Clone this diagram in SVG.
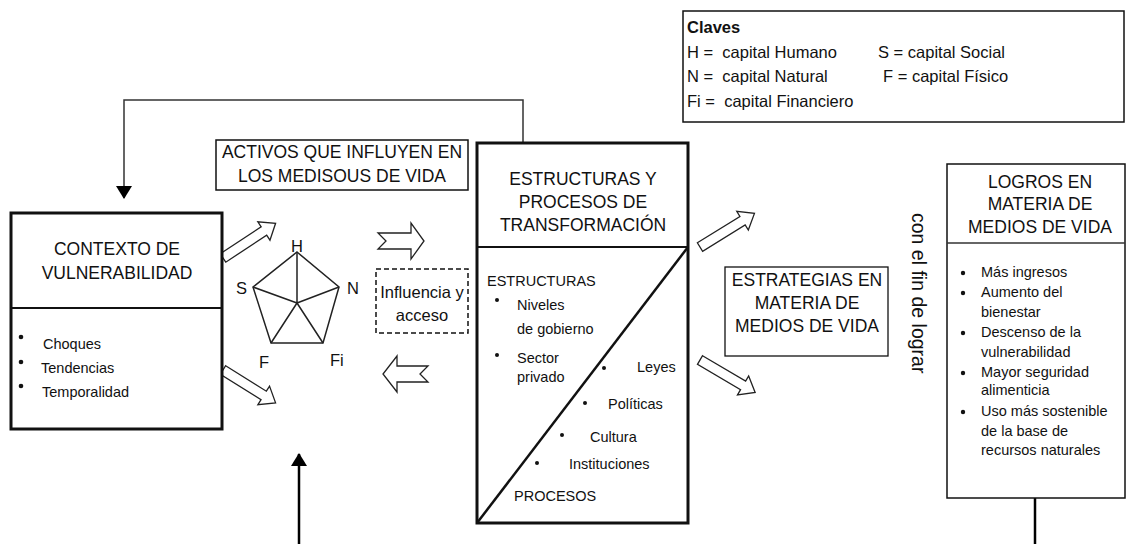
<svg xmlns="http://www.w3.org/2000/svg" width="1126" height="544" viewBox="0 0 1126 544">
<style>
text{font-family:"Liberation Sans",Arial,sans-serif;fill:#111;}
.t{font-size:17.5px;text-anchor:middle;}
.b{font-size:14.5px;}
.k{font-size:16.5px;}
.box{fill:#fff;stroke:#111;}
.blk{fill:#fff;stroke:#222;stroke-width:1.3;}
</style>
<defs>
<marker id="ah" markerWidth="14" markerHeight="16" refX="12" refY="8" orient="auto" markerUnits="userSpaceOnUse">
<path d="M0,0 L13,8 L0,16 Z" fill="#000"/>
</marker>
</defs>
<g id="connectors">
<polyline points="523,143 523,100 124,100 124,198" fill="none" stroke="#333" stroke-width="1.5" marker-end="url(#ah)"/>
<line x1="299" y1="544" x2="299" y2="454" stroke="#000" stroke-width="2.5" marker-end="url(#ah)"/>
<line x1="1035" y1="498" x2="1035" y2="544" stroke="#000" stroke-width="2.5"/>
<path class="blk" transform="translate(223,258) rotate(-33.4)" d="M0,-5 L49,-5 L49,-11 L63,0 L49,11 L49,5 L0,5 Z"/>
<path class="blk" transform="translate(223,370) rotate(32)" d="M0,-5 L48,-5 L48,-11 L62,0 L48,11 L48,5 L0,5 Z"/>
<path class="blk" transform="translate(700,247) rotate(-31.7)" d="M0,-5 L50,-5 L50,-11 L64,0 L50,11 L50,5 L0,5 Z"/>
<path class="blk" transform="translate(700,360) rotate(30.5)" d="M0,-5 L50,-5 L50,-11 L64,0 L50,11 L50,5 L0,5 Z"/>
<path class="blk" d="M378,233 L411,233 L411,223 L424,241 L411,259 L411,249 L378,249 L386,241 Z"/>
<path class="blk" d="M428,366 L397,366 L397,356 L383,374 L397,392 L397,382 L428,382 L420,374 Z"/>
</g>
<g id="contexto">
<rect class="box" x="11" y="213" width="211" height="216" stroke-width="3"/>
<line x1="11" y1="308" x2="222" y2="308" stroke="#111" stroke-width="2"/>
<text class="t" x="117" y="255">CONTEXTO DE</text>
<text class="t" x="117" y="279">VULNERABILIDAD</text>
<circle cx="21" cy="337" r="2.3" fill="#111"/>
<circle cx="21" cy="362" r="2.3" fill="#111"/>
<circle cx="21" cy="386" r="2.3" fill="#111"/>
<text class="b" x="43" y="349">Choques</text>
<text class="b" x="41" y="373">Tendencias</text>
<text class="b" x="42" y="397">Temporalidad</text>
</g>
<g id="activos">
<rect class="box" x="216" y="140" width="252" height="50" stroke-width="1.5"/>
<text class="t" x="342" y="158">ACTIVOS QUE INFLUYEN EN</text>
<text class="t" x="342" y="182">LOS MEDISOUS DE VIDA</text>
</g>
<g id="pentagono">
<polygon points="297,252 339,287 323,343 271,343 253,287" fill="none" stroke="#222" stroke-width="1.5"/>
<path d="M297,303 L297,252 M297,303 L339,287 M297,303 L323,343 M297,303 L271,343 M297,303 L253,287" stroke="#222" stroke-width="1.5"/>
<text class="k" x="297" y="252" text-anchor="middle">H</text>
<text class="k" x="236" y="294">S</text>
<text class="k" x="347" y="294">N</text>
<text class="k" x="259" y="368">F</text>
<text class="k" x="330" y="366">Fi</text>
</g>
<g id="influencia">
<rect x="376" y="269" width="92" height="64" fill="#fff" stroke="#111" stroke-width="1.5" stroke-dasharray="5,3"/>
<text class="k" x="422" y="298" text-anchor="middle">Influencia y</text>
<text class="k" x="422" y="321" text-anchor="middle">acceso</text>
</g>
<g id="estructuras">
<rect class="box" x="477" y="143" width="211" height="380" stroke-width="3"/>
<line x1="477" y1="247" x2="688" y2="247" stroke="#111" stroke-width="2"/>
<line x1="477" y1="523" x2="688" y2="247" stroke="#111" stroke-width="2.5"/>
<text class="t" x="583" y="185">ESTRUCTURAS Y</text>
<text class="t" x="583" y="208">PROCESOS DE</text>
<text class="t" x="583" y="231">TRANSFORMACIÓN</text>
<text class="b" x="487" y="286">ESTRUCTURAS</text>
<circle cx="497" cy="300" r="2" fill="#111"/>
<text class="b" x="517" y="310">Niveles</text>
<text class="b" x="517" y="334">de gobierno</text>
<circle cx="497" cy="355" r="2" fill="#111"/>
<text class="b" x="517" y="363">Sector</text>
<text class="b" x="517" y="382">privado</text>
<circle cx="604" cy="368" r="2" fill="#111"/>
<text class="b" x="637" y="372">Leyes</text>
<circle cx="585" cy="403" r="2" fill="#111"/>
<text class="b" x="608" y="409">Políticas</text>
<circle cx="562" cy="435" r="2" fill="#111"/>
<text class="b" x="590" y="442">Cultura</text>
<circle cx="537" cy="463" r="2" fill="#111"/>
<text class="b" x="569" y="469">Instituciones</text>
<text class="b" x="514" y="501">PROCESOS</text>
</g>
<g id="claves">
<rect class="box" x="683" y="11" width="441" height="111" stroke-width="1.5"/>
<text class="k" x="687" y="33" font-weight="bold">Claves</text>
<text class="k" x="687" y="58" xml:space="preserve">H =  capital Humano</text>
<text class="k" x="878" y="58">S = capital Social</text>
<text class="k" x="687" y="82" xml:space="preserve">N =  capital Natural</text>
<text class="k" x="883" y="82">F = capital Físico</text>
<text class="k" x="687" y="107" xml:space="preserve">Fi =  capital Financiero</text>
</g>
<g id="estrategias">
<rect class="box" x="725" y="267" width="163" height="89" stroke-width="1.3"/>
<text class="t" x="807" y="286">ESTRATEGIAS EN</text>
<text class="t" x="807" y="309">MATERIA DE</text>
<text class="t" x="807" y="332">MEDIOS DE VIDA</text>
</g>
<g id="lograr">
<text x="912" y="213" font-size="19.5" transform="rotate(90 912 213)">con el fin de lograr</text>
</g>
<g id="logros">
<rect class="box" x="947" y="164" width="178" height="334" stroke-width="1.5"/>
<line x1="947" y1="243" x2="1125" y2="243" stroke="#333" stroke-width="1.5"/>
<text class="t" x="1040" y="188">LOGROS EN</text>
<text class="t" x="1040" y="210">MATERIA DE</text>
<text class="t" x="1040" y="233">MEDIOS DE VIDA</text>
<circle cx="963" cy="273" r="2.2" fill="#111"/>
<circle cx="963" cy="293" r="2.2" fill="#111"/>
<circle cx="963" cy="333" r="2.2" fill="#111"/>
<circle cx="963" cy="373" r="2.2" fill="#111"/>
<circle cx="963" cy="412" r="2.2" fill="#111"/>
<text class="b" x="981" y="277">Más ingresos</text>
<text class="b" x="981" y="297">Aumento del</text>
<text class="b" x="981" y="317">bienestar</text>
<text class="b" x="981" y="337">Descenso de la</text>
<text class="b" x="981" y="357">vulnerabilidad</text>
<text class="b" x="981" y="377">Mayor seguridad</text>
<text class="b" x="981" y="395">alimenticia</text>
<text class="b" x="981" y="416">Uso más sostenible</text>
<text class="b" x="981" y="436">de la base de</text>
<text class="b" x="981" y="455">recursos naturales</text>
</g>
</svg>
